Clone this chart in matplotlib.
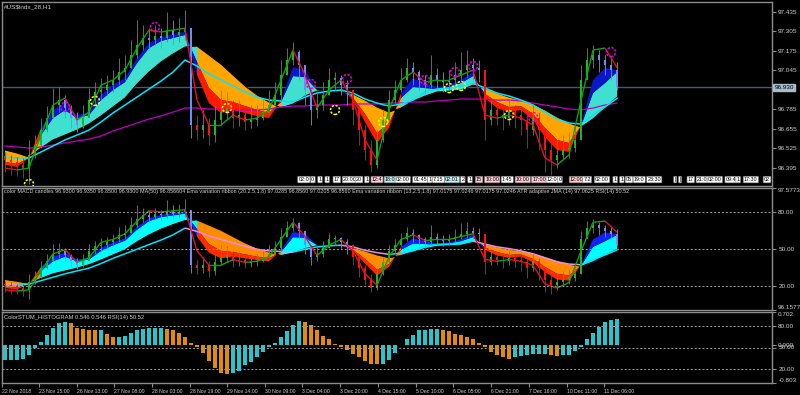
import numpy as np
import matplotlib
matplotlib.use('Agg')
from matplotlib import pyplot as plt
from matplotlib.collections import LineCollection

plt.rcParams['font.family'] = ['Liberation Sans', 'DejaVu Sans']

# ---- values (H1 bars, one entry per bar) ----
first_open = 96.459
candle_close = [96.445, 96.432, 96.412, 96.392, 96.479, 96.545, 96.645, 96.725, 96.812, 96.845,
                96.792, 96.725, 96.679, 96.725, 96.845, 96.899, 96.912, 96.945, 96.979, 97.032,
                97.059, 97.145, 97.212, 97.259, 97.245, 97.272, 97.259, 97.312, 97.279, 97.299,
                97.325, 96.679, 96.645, 96.679, 96.612, 96.712, 96.765, 96.792, 96.725, 96.745,
                96.699, 96.712, 96.725, 96.765, 96.812, 96.879, 97.012, 97.112, 97.165, 97.079,
                96.912, 96.779, 96.812, 96.879, 96.979, 96.992, 96.945, 96.912, 96.779, 96.645,
                96.512, 96.412, 96.579, 96.712, 96.845, 96.912, 96.979, 97.059, 97.032, 96.979,
                96.945, 97.012, 96.979, 96.965, 96.979, 97.012, 97.045, 97.079, 97.059, 97.045,
                96.712, 96.779, 96.745, 96.725, 96.765, 96.745, 96.712, 96.645, 96.725, 96.645,
                96.512, 96.445, 96.479, 96.512, 96.525, 96.579, 96.979, 97.112, 97.145, 97.112,
                97.079, 97.045, 96.930]
candle_high = [96.499, 96.479, 96.465, 96.459, 96.579, 96.612, 96.725, 96.805, 96.925, 96.932,
               96.879, 96.812, 96.765, 96.812, 96.925, 96.965, 96.992, 97.012, 97.045, 97.125,
               97.145, 97.245, 97.379, 97.345, 97.325, 97.345, 97.325, 97.432, 97.379, 97.392,
               97.445, 97.312, 96.745, 96.779, 96.725, 96.812, 96.912, 96.899, 96.845, 96.845,
               96.792, 96.812, 96.812, 96.845, 96.912, 96.965, 97.112, 97.192, 97.232, 97.179,
               97.045, 96.899, 96.899, 96.965, 97.059, 97.032, 97.012, 96.979, 96.912, 96.812,
               96.679, 96.579, 96.645, 96.779, 96.912, 96.979, 97.059, 97.125, 97.099, 97.045,
               97.012, 97.145, 97.059, 97.032, 97.045, 97.099, 97.165, 97.179, 97.125, 97.112,
               97.012, 96.845, 96.812, 96.812, 96.845, 96.812, 96.792, 96.765, 96.812, 96.765,
               96.659, 96.579, 96.579, 96.612, 96.632, 96.679, 97.079, 97.192, 97.212, 97.179,
               97.145, 97.125, 97.099]
candle_low = [96.365, 96.345, 96.339, 96.325, 96.285, 96.459, 96.525, 96.632, 96.725, 96.765,
              96.725, 96.659, 96.632, 96.659, 96.765, 96.812, 96.845, 96.879, 96.899, 96.945,
              96.979, 97.059, 97.125, 97.179, 97.179, 97.212, 97.192, 97.232, 97.212, 97.232,
              97.245, 96.592, 96.579, 96.592, 96.545, 96.565, 96.679, 96.712, 96.659, 96.672,
              96.645, 96.659, 96.672, 96.712, 96.765, 96.812, 96.845, 97.012, 97.079, 96.979,
              96.812, 96.679, 96.725, 96.779, 96.879, 96.912, 96.879, 96.812, 96.679, 96.545,
              96.445, 96.365, 96.392, 96.565, 96.699, 96.812, 96.899, 96.965, 96.945, 96.912,
              96.879, 96.925, 96.912, 96.899, 96.912, 96.945, 96.979, 96.992, 96.979, 96.965,
              96.579, 96.679, 96.679, 96.645, 96.679, 96.659, 96.612, 96.525, 96.612, 96.512,
              96.365, 96.345, 96.392, 96.445, 96.459, 96.499, 96.579, 96.992, 97.059, 97.032,
              97.012, 96.979, 96.912]

# indicator lines, one value every second bar
rib_fast = [96.412, 96.399, 96.459, 96.659, 96.779, 96.825, 96.745, 96.765, 96.879, 96.945,
            96.992, 97.125, 97.225, 97.265, 97.285, 97.299, 97.012, 96.825, 96.759, 96.779,
            96.759, 96.739, 96.725, 96.845, 97.065, 97.045, 96.912, 96.912, 96.912, 96.845,
            96.699, 96.559, 96.659, 96.892, 96.992, 96.959, 96.932, 96.945, 96.979, 97.032,
            96.859, 96.792, 96.765, 96.779, 96.712, 96.599, 96.512, 96.499, 96.679, 96.979,
            97.059, 97.045]
rib_mid = [96.432, 96.419, 96.459, 96.612, 96.725, 96.779, 96.725, 96.745, 96.845, 96.912,
           96.965, 97.092, 97.192, 97.239, 97.259, 97.279, 97.099, 96.925, 96.845, 96.832,
           96.805, 96.779, 96.759, 96.832, 97.005, 96.999, 96.912, 96.912, 96.912, 96.859,
           96.752, 96.625, 96.692, 96.859, 96.932, 96.925, 96.919, 96.932, 96.959, 97.005,
           96.885, 96.832, 96.799, 96.805, 96.752, 96.659, 96.579, 96.559, 96.672, 96.892,
           96.959, 97.032]
rib_slow = [96.512, 96.492, 96.465, 96.525, 96.579, 96.612, 96.645, 96.685, 96.739, 96.799,
            96.859, 96.952, 97.032, 97.099, 97.152, 97.199, 97.205, 97.145, 97.085, 97.012,
            96.939, 96.879, 96.832, 96.792, 96.819, 96.872, 96.905, 96.912, 96.905, 96.885,
            96.845, 96.799, 96.765, 96.792, 96.839, 96.872, 96.899, 96.905, 96.912, 96.945,
            96.925, 96.892, 96.865, 96.845, 96.819, 96.779, 96.732, 96.692, 96.665, 96.719,
            96.792, 96.865]
ma50 = [96.465, 96.459, 96.459, 96.499, 96.539, 96.579, 96.612, 96.645, 96.699, 96.759,
        96.812, 96.865, 96.919, 96.972, 97.032, 97.112, 97.072, 97.019, 96.979, 96.939,
        96.899, 96.865, 96.845, 96.839, 96.832, 96.865, 96.892, 96.905, 96.912, 96.892,
        96.852, 96.825, 96.805, 96.819, 96.845, 96.899, 96.919, 96.925, 96.939, 96.959,
        96.925, 96.892, 96.872, 96.845, 96.812, 96.765, 96.719, 96.692, 96.685, 96.745,
        96.799, 96.857]
ma_slow = [96.539, 96.532, 96.525, 96.532, 96.545, 96.559, 96.572, 96.585, 96.605, 96.639,
           96.665, 96.692, 96.719, 96.739, 96.765, 96.792, 96.792, 96.785, 96.785, 96.779,
           96.779, 96.779, 96.785, 96.799, 96.805, 96.805, 96.812, 96.812, 96.812, 96.819,
           96.819, 96.819, 96.825, 96.825, 96.832, 96.832, 96.839, 96.845, 96.852, 96.852,
           96.852, 96.845, 96.845, 96.839, 96.825, 96.812, 96.799, 96.785, 96.779, 96.792,
           96.812, 96.825]
jma = [96.392, 96.379, 96.392, 96.612, 96.812, 96.859, 96.712, 96.765, 96.945, 96.979,
       97.045, 97.192, 97.312, 97.299, 97.312, 97.325, 96.845, 96.679, 96.679, 96.745,
       96.712, 96.725, 96.779, 96.979, 97.179, 97.012, 96.792, 96.912, 96.979, 96.845,
       96.579, 96.445, 96.779, 96.979, 97.032, 96.965, 96.979, 96.979, 97.012, 97.045,
       96.745, 96.725, 96.745, 96.725, 96.679, 96.459, 96.412, 96.479, 96.845, 97.179,
       97.192, 97.0625]

stum_hist = [-0.31, -0.31, -0.31, -0.29, -0.20, -0.07, 0.07, 0.22, 0.37, 0.46,
             0.50, 0.46, 0.37, 0.35, 0.33, 0.31, 0.31, 0.24, 0.18, 0.18,
             0.20, 0.26, 0.33, 0.35, 0.37, 0.37, 0.37, 0.35, 0.31, 0.26,
             0.18, 0.05, -0.03, -0.16, -0.33, -0.48, -0.60, -0.62, -0.60, -0.54,
             -0.43, -0.35, -0.26, -0.14, -0.03, 0.05, 0.18, 0.29, 0.43, 0.52,
             0.50, 0.43, 0.31, 0.20, 0.12, 0.03, -0.03, -0.10, -0.18, -0.26,
             -0.33, -0.39, -0.41, -0.39, -0.31, -0.16, 0.01, 0.12, 0.22, 0.31,
             0.33, 0.35, 0.35, 0.33, 0.29, 0.24, 0.22, 0.18, 0.12, 0.05,
             -0.03, -0.14, -0.22, -0.26, -0.29, -0.26, -0.24, -0.20, -0.18, -0.18,
             -0.18, -0.20, -0.24, -0.22, -0.20, -0.12, -0.03, 0.12, 0.26, 0.39,
             0.50, 0.54, 0.546]

# signal circles: bar number and price
yellow_bar = [4, 15, 37, 55, 63, 74, 76, 84]
yellow_price = [96.285, 96.839, 96.792, 96.779, 96.699, 96.925, 96.939, 96.745]
magenta_bar = [10, 25, 51, 57, 70, 75, 78, 88, 101]
magenta_price = [96.799, 97.332, 96.952, 96.985, 96.979, 97.032, 97.072, 96.732, 97.165]

price_ticks = [97.435, 97.305, 97.175, 97.045, 96.785, 96.655, 96.525, 96.395]
last_price = 96.930
sub_range = [96.1577, 97.5773]
hist_range = [-0.803, 0.702]
rsi_levels = [20, 50, 80]

time_labels = ['22 Nov 2018', '23 Nov 15:00', '26 Nov 13:00', '27 Nov 08:00', '28 Nov 03:00',
               '28 Nov 19:00', '29 Nov 14:00', '30 Nov 09:00', '3 Dec 04:00', '3 Dec 20:00',
               '4 Dec 15:00', '5 Dec 10:00', '6 Dec 05:00', '6 Dec 21:00', '7 Dec 16:00',
               '10 Dec 11:00', '11 Dec 06:00']
time_ticks = [-0.5, 5.67, 12.0, 18.17, 24.5, 30.83, 37.0, 43.33, 49.5, 55.83, 62.17,
              68.5, 74.67, 81.0, 87.33, 93.67, 99.83]

# little time stamp boxes along the bottom of the main window
stamp_text = ['02:0', '0', '1', '1', '17', '20:00', '20', '1', '12:4', '18:0', '02:00', '01:45',
              '1', '7:15', '02:01', '2', '1', '15', '10:00', '1:45', '10:00', '17:00', '12:0',
              '0', '12:00', '7:2', '02:00', '1', '1', '05', '19:0', '23:30', '|', '|', '17',
              '21:0', '02:00', '09:4', '1', '17:30', '02']
stamp_pos = [49.8, 51.3, 52.5, 53.7, 55.3, 57.5, 59.0, 60.3, 62.0, 64.2, 66.3, 69.2,
             70.8, 72.2, 74.5, 76.3, 77.5, 79.0, 81.2, 83.7, 86.3, 89.0, 91.2,
             92.5, 95.3, 97.0, 99.5, 101.7, 102.8, 104.0, 105.7, 108.2, 111.7, 112.5, 114.3,
             116.2, 118.3, 121.0, 122.2, 124.3, 127.0]
stamp_kind = ['w', 'w', 'w', 'w', 'w', 'w', 'w', 'w', 'p', 'c', 'w', 'w',
              'w', 'w', 'c', 'w', 'w', 'p', 'p', 'w', 'p', 'p', 'w',
              'w', 'p', 'w', 'w', 'w', 'w', 'w', 'w', 'w', 'w', 'w', 'w',
              'w', 'w', 'w', 'w', 'w', 'w']

title_main = '#US$indx_28,H1'
title_sub = ('color MACD candles 96.9300 96.9350 96.8500 96.9300 MA(50) 96.856604 '
             'Ema variation ribbon (20,2.5,1.8) 97.0285 96.8560 97.0205 96.8560 '
             'Ema variation ribbon (13,2.5,1.8) 97.0175 97.0246 97.0175 97.0246 '
             'ATR adaptive JMA (14) 97.0625 RSI(14) 50.52')
title_hist = 'ColorSTUM_HISTOGRAM 0.546 0.546 RSI(14) 50.52'


GREY = '#8c8c8c'
TXT = '#d0d0d0'
n = len(candle_close)
bar_x = np.arange(n)
line_x = np.arange(0, n, 2)
up = np.array(rib_fast) >= np.array(rib_slow)


def style(ax):
    ax.set_facecolor('black')
    for s in ax.spines.values():
        s.set_color(GREY)
        s.set_linewidth(1)
    ax.set_xlim(-0.5, 127.83)
    ax.tick_params(axis='y', colors=GREY, labelcolor=TXT, labelsize=4.6, length=3, width=0.8, pad=1.5)
    ax.tick_params(axis='x', bottom=False, labelbottom=False)


def ribbon(ax, up_band, up_fill, dn_band, dn_fill):
    f, m, s = np.array(rib_fast), np.array(rib_mid), np.array(rib_slow)
    w_up = up.copy()
    w_up[1:] |= up[:-1]
    w_dn = ~up
    w_dn[1:] |= ~up[:-1]
    ax.fill_between(line_x, m, s, where=w_up, color=up_fill, lw=0, zorder=1)
    ax.fill_between(line_x, m, s, where=w_dn, color=dn_fill, lw=0, zorder=1)
    ax.fill_between(line_x, f, m, where=w_up, color=up_band, lw=0, zorder=1.1)
    ax.fill_between(line_x, f, m, where=w_dn, color=dn_band, lw=0, zorder=1.1)
    ax.plot(line_x, s, color='black', lw=0.7, zorder=1.2)


def candles(ax):
    opens = [first_open] + candle_close[:-1]
    cols = []
    for i in range(n):
        rising = candle_close[i] >= opens[i]
        if rising:
            cols.append('#22b422')
        elif up[i // 2]:
            cols.append('#6e8cff')
        else:
            cols.append('#ff1010')
    ax.vlines(bar_x, candle_low, candle_high, colors=cols, lw=0.6, zorder=3)
    ax.bar(bar_x, np.array(candle_close) - np.array(opens), bottom=opens, width=0.45,
           color=cols, lw=0, zorder=3)


def slope_line(ax, y, c_up, c_dn, lw, z):
    pts = np.column_stack([line_x, y])
    segs = np.stack([pts[:-1], pts[1:]], axis=1)
    cols = [c_up if b >= a else c_dn for a, b in zip(y[:-1], y[1:])]
    ax.add_collection(LineCollection(segs, colors=cols, linewidths=lw, zorder=z))


def edge_labels(ax, values, fmt):
    # labels at the top and bottom of a window sit inside it, as in the terminal
    ax.set_yticks(values)
    labs = ax.set_yticklabels([fmt % v for v in values])
    labs[0].set_va('bottom')
    labs[-1].set_va('top')


def rsi_axis(ax):
    axr = ax.twinx()
    axr.set_ylim(0, 100)
    for s in axr.spines.values():
        s.set_visible(False)
    axr.tick_params(axis='y', colors=GREY, labelcolor=TXT, labelsize=4.6, length=3, width=0.8, pad=1.5)
    axr.set_yticks(rsi_levels)
    axr.set_yticklabels(['%.2f' % v for v in rsi_levels])
    for v in rsi_levels:
        axr.axhline(v, color='#a0a0a0', lw=0.7, ls=(0, (2, 2)), zorder=0.5)
    ax.yaxis.tick_right()
    return axr


fig = plt.figure(figsize=(8, 3.95), dpi=100, facecolor='black')


def panel(top, bottom):
    return fig.add_axes([2 / 800, 1 - bottom / 395, 770 / 800, (bottom - top) / 395])


ax1 = panel(2, 186)
ax2 = panel(188, 310)
ax3 = panel(312, 383)

# main window
style(ax1)
ribbon(ax1, '#0a18c8', '#40e0d0', '#ff1a00', '#ffa500')
ax1.plot(line_x, ma_slow, color='#c000c0', lw=0.9, zorder=2)
ax1.plot(line_x, ma50, color='#00e5ff', lw=1.1, zorder=2)
candles(ax1)
slope_line(ax1, jma, '#10a010', '#e0102a', 1.0, 4)
ax1.axhline(last_price, color='#4c5a66', lw=1, zorder=0.5)
ax1.scatter(yellow_bar, yellow_price, s=42, facecolors='none', edgecolors='#ffff00',
            linewidths=1.1, linestyle=(0, (1.5, 1)), zorder=5)
ax1.scatter(magenta_bar, magenta_price, s=42, facecolors='none', edgecolors='#e000e0',
            linewidths=1.1, linestyle=(0, (1.5, 1)), zorder=5)
ax1.set_ylim(96.272, 97.499)
ax1.yaxis.tick_right()
ax1.set_yticks(price_ticks)
ax1.set_yticklabels(['%.3f' % v for v in price_ticks])
ax1.text(1.003, last_price, '%.3f' % last_price, transform=ax1.get_yaxis_transform(),
         fontsize=4.6, color='black', va='center', ha='left',
         bbox=dict(boxstyle='square,pad=0.15', fc='#a8bccc', ec='#a8bccc'), clip_on=False)
ax1.text(0.003, 0.975, title_main, transform=ax1.transAxes, fontsize=4.6, color=TXT,
         va='center', ha='left', parse_math=False)
stamp_fc = {'w': 'white', 'p': '#ffc8d2', 'c': '#bff0f0'}
for t, x, k in zip(stamp_text, stamp_pos, stamp_kind):
    ax1.text(x, 0.035, t, transform=ax1.get_xaxis_transform(), fontsize=3.9, color='black',
             ha='center', va='center', zorder=6, clip_on=False,
             bbox=dict(boxstyle='round,pad=0.15', fc=stamp_fc[k], ec='#707070', lw=0.4))

# indicator window with the same price data
style(ax2)
ax2r = rsi_axis(ax2)
ribbon(ax2, '#1020ff', '#00ffff', '#ff2a00', '#ff8c00')
slope_line(ax2, ma50, '#00e5ff', '#f08ce6', 1.1, 2)
candles(ax2)
slope_line(ax2, jma, '#10a010', '#e0102a', 1.0, 4)
ax2.set_ylim(sub_range)
edge_labels(ax2, sub_range, '%.4f')
ax2.text(0.003, 0.975, title_sub, transform=ax2.transAxes, fontsize=3.9, color=TXT,
         va='center', ha='left', zorder=6, parse_math=False)

# histogram window
style(ax3)
ax3r = rsi_axis(ax3)
hist = np.array(stum_hist)
hcol = ['#27c6cc' if i == 0 or hist[i] >= hist[i - 1] else '#e08e00' for i in range(n)]
ax3.bar(bar_x, hist, width=0.7, color=hcol, lw=0, zorder=2)
ax3.set_ylim(hist_range)
edge_labels(ax3, [hist_range[0], 0, hist_range[1]], '%.3f')
ax3.text(0.003, 0.92, title_hist, transform=ax3.transAxes, fontsize=4.2, color=TXT,
         va='center', ha='left', zorder=6, parse_math=False)
ax3.set_xticks(time_ticks)
ax3.set_xticklabels(time_labels, ha='left')
ax3.tick_params(axis='x', bottom=True, labelbottom=True, colors=GREY, labelcolor=TXT,
                labelsize=3.7, length=3, width=0.8, pad=1.5)

plt.savefig('out.png', dpi=100, facecolor='black')
